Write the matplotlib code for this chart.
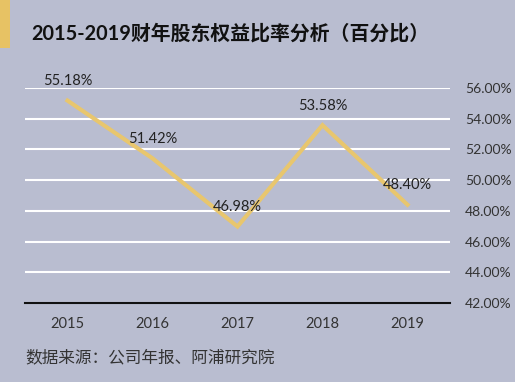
import matplotlib
matplotlib.use("Agg")
import matplotlib.pyplot as plt
from matplotlib.patches import Rectangle
from matplotlib.ticker import FuncFormatter

plt.rcParams['font.family'] = ['Lato', 'Noto Sans CJK SC', 'DejaVu Sans']

years = ['2015', '2016', '2017', '2018', '2019']
ratios = [55.18, 51.42, 46.98, 53.58, 48.40]
yticks = [42, 44, 46, 48, 50, 52, 54, 56]
title = '2015-2019财年股东权益比率分析（百分比）'
source = '数据来源：公司年报、阿浦研究院'

bg = '#b9bdd0'
gold = '#e8c66e'
W, H = 515, 382
fig = plt.figure(figsize=(W / 100, H / 100), dpi=100, facecolor=bg)

fig.patches.append(Rectangle((0, 1 - 48 / H), 10 / W, 48 / H, transform=fig.transFigure,
                             facecolor='#e7c264', edgecolor='none'))
fig.text(31 / W, 1 - 34 / H, title, fontsize=14.3, fontweight='bold', color='#111111',
         va='center', ha='left')
fig.text(25 / W, 1 - 358 / H, source, fontsize=12, color='#333333', va='center', ha='left',
         family=['Noto Sans CJK SC', 'DejaVu Sans'])

ax = fig.add_axes([25 / W, 1 - 303 / H, 425 / W, 215 / H])
ax.set_facecolor(bg)
x = list(range(len(years)))
ax.plot(x, ratios, color=gold, lw=3, solid_joinstyle='miter', zorder=3)
for xi, v in zip(x, ratios):
    ax.annotate(f'{v:.2f}%', (xi, v), xytext=(0, 14), textcoords='offset points',
                ha='center', va='center', fontsize=10.5, color='#222222', zorder=4)

ax.set_xlim(-0.5, len(years) - 0.5)
ax.set_ylim(42, 56)
ax.set_yticks(yticks)
ax.yaxis.set_major_formatter(FuncFormatter(lambda v, p: f'{v:.2f}%'))
ax.yaxis.tick_right()
ax.set_xticks(x)
ax.set_xticklabels(years)
ax.tick_params(axis='both', length=0, labelsize=10.5, labelcolor='#333333')
ax.tick_params(axis='y', pad=11, labelsize=10)
ax.tick_params(axis='x', pad=10)
ax.grid(axis='y', color='white', lw=1.5, zorder=1)
ax.set_axisbelow(True)
for s in ['top', 'left', 'right']:
    ax.spines[s].set_visible(False)
ax.spines['bottom'].set_color('#111111')
ax.spines['bottom'].set_linewidth(1.5)
ax.spines['bottom'].set_zorder(2)

fig.savefig('out.png', dpi=100, facecolor=bg)
